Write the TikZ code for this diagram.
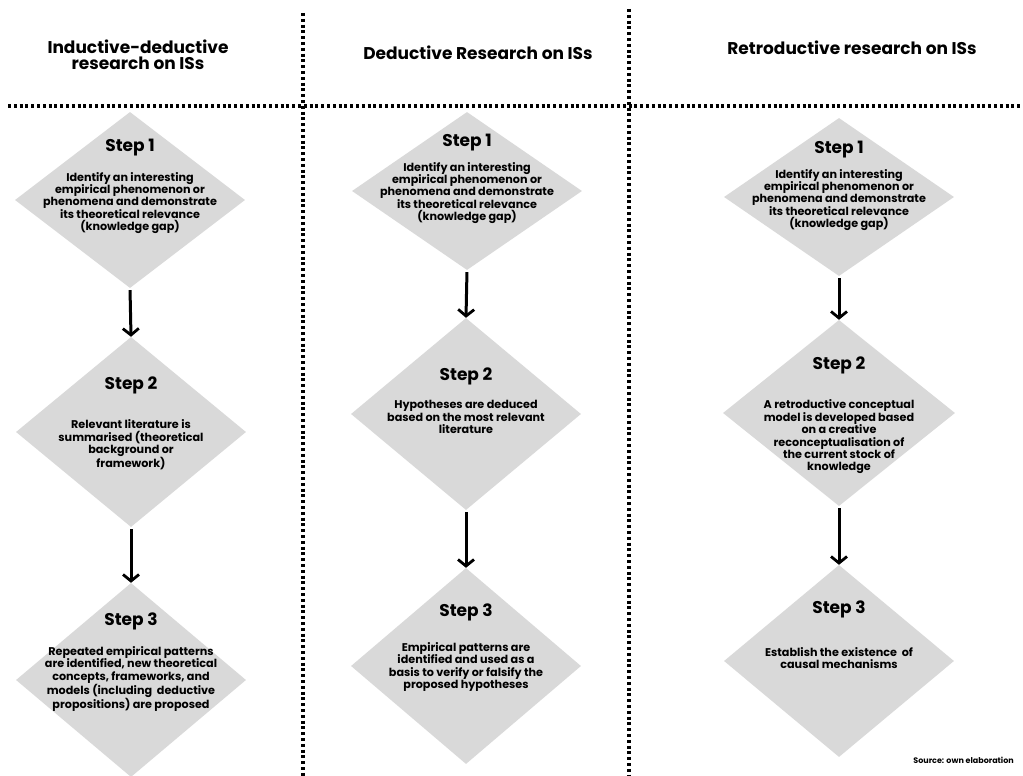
\documentclass[tikz,border=0pt]{standalone}
\usepackage{fontspec}
\setmainfont{Poppins}
\usetikzlibrary{shapes.geometric,arrows.meta}
\definecolor{dgrey}{HTML}{D9D9D9}
\begin{document}
\begin{tikzpicture}[x=1pt,y=-1pt,
  dia/.style={diamond,fill=dgrey,draw=none,inner sep=0pt,minimum width=230pt},
  steptitle/.style={font=\bfseries\fontsize{17}{20}\selectfont,inner sep=0pt},
  body/.style={font=\bfseries\fontsize{11.2}{12.4}\selectfont,align=center,inner sep=0pt},
  head/.style={font=\bfseries\fontsize{17}{16.5}\selectfont,align=center,inner sep=0pt},
  dotline/.style={line width=3.2pt,dash pattern=on 3pt off 2.8pt},
  arr/.style={line width=3pt,-{Straight Barb[length=6.5pt,width=16pt,line width=2.8pt]},shorten <=2pt}]
\useasboundingbox[fill=white] (0,0) rectangle (1023,776);
% dotted separators
\coordinate (hl) at (8,106);
\coordinate (hr) at (1023,106);
\coordinate (v1t) at (303,13);
\coordinate (v1b) at (303,776);
\coordinate (v2t) at (629,9);
\coordinate (v2b) at (629,776);
\draw[dotline] (hl) -- (hr);
\draw[dotline] (v1t) -- (v1b);
\draw[dotline] (v2t) -- (v2b);
% headers
\node[head] (h1) at (138,55) {Inductive-deductive\\research on ISs};
\node[head] (h2) at (478,53) {Deductive Research on ISs};
\node[head] (h3) at (852,48) {Retroductive research on ISs};
% column 1
\node[dia,minimum height=176pt] (a1) at (130,200) {};
\node[dia,minimum height=190pt] (a2) at (131,432) {};
\node[dia,minimum height=194pt] (a3) at (131,680) {};
% column 2
\node[dia,minimum height=158pt] (b1) at (467,191) {};
\node[dia,minimum height=192pt] (b2) at (466,414) {};
\node[dia,minimum height=196pt] (b3) at (466,666) {};
% column 3
\node[dia,minimum height=158pt] (c1) at (839,197) {};
\node[dia,minimum height=186pt,minimum width=232pt] (c2) at (839,413) {};
\node[dia,minimum height=192pt] (c3) at (839,661) {};
% arrows
\draw[arr] (a1.south) -- (a2.north);
\draw[arr] (a2.south) -- (a3.north);
\draw[arr] (b1.south) -- (b2.north);
\draw[arr] (b2.south) -- (b3.north);
\draw[arr] (c1.south) -- (c2.north);
\draw[arr] (c2.south) -- (c3.north);
% titles
\node[steptitle] (ta1) at (130,148) {Step 1};
\node[steptitle] (ta2) at (131,385) {Step 2};
\node[steptitle] (ta3) at (131,621) {Step 3};
\node[steptitle] (tb1) at (467,143) {Step 1};
\node[steptitle] (tb2) at (466,376) {Step 2};
\node[steptitle] (tb3) at (466,612) {Step 3};
\node[steptitle] (tc1) at (839,150) {Step 1};
\node[steptitle] (tc2) at (839,365) {Step 2};
\node[steptitle] (tc3) at (839,609) {Step 3};
% bodies
\node[body] (xa1) at (130,203) {Identify an interesting\\empirical phenomenon or\\phenomena and demonstrate\\its theoretical relevance\\(knowledge gap)};
\node[body] (xa2) at (131,445) {Relevant literature is\\summarised (theoretical\\background or\\framework)};
\node[body] (xa3) at (131,679) {Repeated empirical patterns\\are identified, new theoretical\\concepts, frameworks, and\\models (including\ \ deductive\\propositions) are proposed};
\node[body] (xb1) at (467,193) {Identify an interesting\\empirical phenomenon or\\phenomena and demonstrate\\its theoretical relevance\\(knowledge gap)};
\node[body] (xb2) at (466,417) {Hypotheses are deduced\\based on the most relevant\\literature};
\node[body] (xb3) at (466,667) {Empirical patterns are\\identified and used as a\\basis to verify or falsify the\\proposed hypotheses};
\node[body] (xc1) at (839,200) {Identify an interesting\\empirical phenomenon or\\phenomena and demonstrate\\its theoretical relevance\\(knowledge gap)};
\node[body] (xc2) at (839,437) {A retroductive conceptual\\model is developed based\\on a creative\\reconceptualisation of\\the current stock of\\knowledge};
\node[body] (xc3) at (839,658) {Establish the existence\ \ of\\causal mechanisms};
% source
\node[font=\bfseries\fontsize{8}{9}\selectfont,anchor=east,inner sep=0pt] (src) at (1014,760) {Source: own elaboration};
\end{tikzpicture}
\end{document}
